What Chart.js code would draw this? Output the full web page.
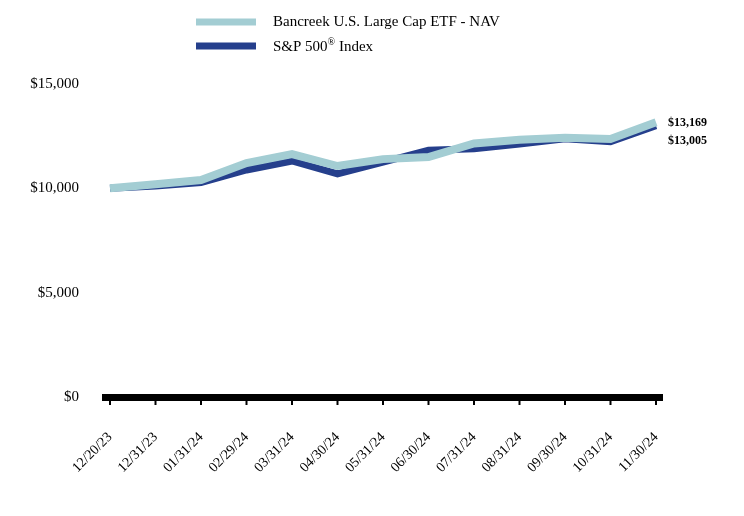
<!DOCTYPE html>
<html>
<head>
<meta charset="utf-8">
<script src="https://cdn.jsdelivr.net/npm/chart.js@4.4.1/dist/chart.umd.min.js"></script>
<style>
  html, body { margin: 0; padding: 0; background: #fff; }
  #wrap { width: 744px; height: 516px; }
</style>
</head>
<body>
<div id="wrap"><canvas id="myChart" width="744" height="516"></canvas></div>
<script>
const dates = ["12/20/23", "12/31/23", "01/31/24", "02/29/24", "03/31/24", "04/30/24", "05/31/24",
  "06/30/24", "07/31/24", "08/31/24", "09/30/24", "10/31/24", "11/30/24"];
const etfValues = [10000, 10200, 10400, 11210, 11640, 11070, 11400, 11500, 12150, 12330, 12420, 12360, 13169];
const spValues = [10000, 10110, 10280, 10880, 11310, 10690, 11260, 11820, 11900, 12120, 12380, 12240, 13005];
const yTicks = [0, 5000, 10000, 15000];
const etfName = "Bancreek U.S. Large Cap ETF - NAV";
const spName = "S&P 500";

const lightBlue = "#a3cdd3";
const darkBlue = "#253f8c";
const serif = "'Liberation Serif', 'Times New Roman', serif";

const fmt = (v) => "$" + v.toLocaleString("en-US");

// black base bar, tick marks, legend and end labels
const extras = {
  id: "extras",
  afterDraw(chart) {
    const c = chart.ctx;
    const x = chart.scales.x;
    const y = chart.scales.y;
    const base = y.getPixelForValue(0);
    c.save();
    c.fillStyle = "#000";
    c.fillRect(x.left - 8, base - 3, x.right - x.left + 15, 7);
    c.strokeStyle = "#000";
    c.lineWidth = 2;
    dates.forEach((d, i) => {
      const px = x.getPixelForValue(i);
      c.beginPath();
      c.moveTo(px, base + 4);
      c.lineTo(px, base + 8);
      c.stroke();
    });

    // legend
    c.lineWidth = 7;
    c.strokeStyle = lightBlue;
    c.beginPath(); c.moveTo(196, 22); c.lineTo(256, 22); c.stroke();
    c.strokeStyle = darkBlue;
    c.beginPath(); c.moveTo(196, 46); c.lineTo(256, 46); c.stroke();
    c.fillStyle = "#000";
    c.textBaseline = "middle";
    c.textAlign = "left";
    c.font = "15px " + serif;
    c.fillText(etfName, 273, 22);
    c.fillText(spName, 273, 47);
    let w = c.measureText(spName).width;
    c.font = "10px " + serif;
    c.fillText("®", 273 + w, 42);
    let w2 = c.measureText("®").width;
    c.font = "15px " + serif;
    c.fillText(" Index", 273 + w + w2, 47);

    // end labels
    c.font = "bold 12px " + serif;
    const last = dates.length - 1;
    c.fillText(fmt(etfValues[last]), 668, y.getPixelForValue(etfValues[last]) + 1);
    c.fillText(fmt(spValues[last]), 668, y.getPixelForValue(spValues[last]) + 15);
    c.restore();
  }
};

const ctx = document.getElementById("myChart");
const myChart = new Chart(ctx, {
  type: "line",
  data: {
    labels: dates,
    datasets: [
      {
        label: etfName,
        data: etfValues,
        borderColor: lightBlue,
        borderWidth: 8,
        pointRadius: 0,
        tension: 0,
        borderJoinStyle: "miter",
        order: 0,
      },
      {
        label: spName + " Index",
        data: spValues,
        borderColor: darkBlue,
        borderWidth: 7,
        pointRadius: 0,
        tension: 0,
        borderJoinStyle: "miter",
        order: 1,
      },
    ],
  },
  options: {
    responsive: false,
    animation: false,
    layout: { padding: { top: 84, right: 88, bottom: 0, left: 0 } },
    plugins: {
      legend: { display: false },
      tooltip: { enabled: false },
    },
    scales: {
      x: {
        offset: false,
        grid: { display: false },
        border: { display: false },
        ticks: {
          autoSkip: false,
          maxRotation: 45,
          minRotation: 45,
          padding: 24,
          color: "#000",
          font: { family: serif, size: 14 },
        },
        afterFit(scale) { scale.height = 119; },
      },
      y: {
        min: 0,
        max: 15000,
        afterBuildTicks(scale) { scale.ticks = yTicks.map((v) => ({ value: v })); },
        grid: { display: false },
        border: { display: false },
        ticks: {
          padding: 23,
          color: "#000",
          font: { family: serif, size: 15 },
          callback: (v) => fmt(v),
        },
        afterFit(scale) { scale.width = 110; },
      },
    },
  },
  plugins: [extras],
});
</script>
</body>
</html>
